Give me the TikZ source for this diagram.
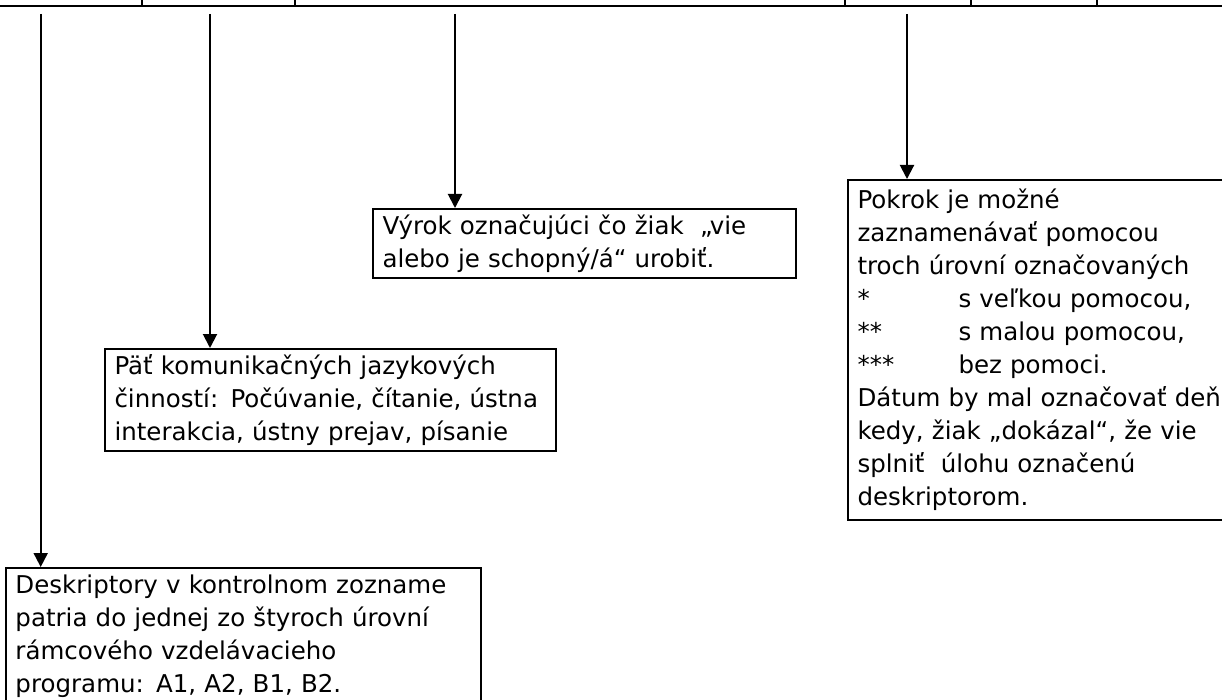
\documentclass[tikz,border=0pt]{standalone}
\usepackage{fontspec}
\setmainfont{DejaVu Sans}
\usetikzlibrary{arrows.meta,calc}
\tikzset{
  sk/.style={font=\fontsize{24.5}{33}\selectfont, text=black},
  skbox/.style={
    sk, draw=black, line width=2pt, anchor=north west, align=left,
    inner xsep=9.5pt, inner ysep=0pt
  },
  skarr/.style={-{Triangle[length=14pt,width=14pt]}, line width=2pt},
  sktop/.style={line width=2.5pt},
  sktick/.style={line width=1.5pt},
}
\newcommand{\sktab}[1]{\makebox[101pt][l]{#1}}

\begin{document}
\begin{tikzpicture}[x=1pt, y=-1pt]
    \clip (0,0) rectangle (1222,700);
    \draw[sktop] (0,6) -- (1222,6);
    \foreach \t in {142,295,845,971,1097}
      \draw[sktick] (\t,0) -- (\t,6);

    \node[skbox, text width=456pt, minimum height=136pt] (desk) at (5,567)
      {Deskriptory v kontrolnom zozname\\patria do jednej zo štyroch úrovní\\rámcového vzdelávacieho\\programu: A1, A2, B1, B2.};
    \node[skbox, text width=432pt, minimum height=102pt] (cinn) at (104,348)
      {Päť komunikačných jazykových\\činností: Počúvanie, čítanie, ústna\\interakcia, ústny prejav, písanie};
    \node[skbox, text width=404pt, minimum height=69pt] (vyrok) at (372,208)
      {Výrok označujúci čo žiak\ \ „vie\\alebo je schopný/á“ urobiť.};
    \node[skbox, text width=371pt, minimum height=340pt] (pokrok) at (847,179)
      {Pokrok je možné\\zaznamenávať pomocou\\troch úrovní označovaných\\
       \sktab{*}s veľkou pomocou,\\\sktab{**}s malou pomocou,\\\sktab{***}bez pomoci.\\
       Dátum by mal označovať deň\\kedy, žiak „dokázal“, že vie\\splniť\ \ úlohu označenú\\deskriptorom.};

    \coordinate (s1) at (40.7,14);
    \coordinate (s2) at (210,14);
    \coordinate (s3) at (455,14);
    \coordinate (s4) at (907,14);

    \draw[skarr] (s1) -- (s1 |- desk.north);
    \draw[skarr] (s2) -- (s2 |- cinn.north);
    \draw[skarr] (s3) -- (s3 |- vyrok.north);
    \draw[skarr] (s4) -- (s4 |- pokrok.north);
\end{tikzpicture}
\end{document}
